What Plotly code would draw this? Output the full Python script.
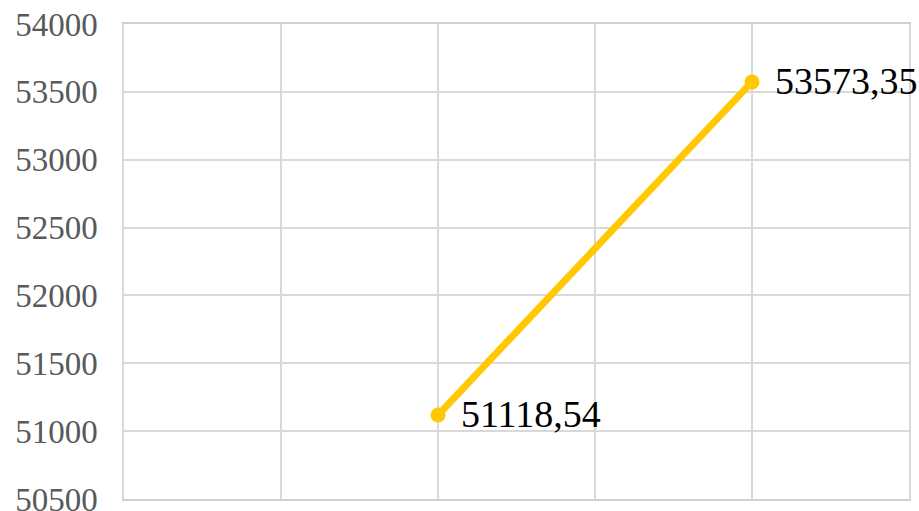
import plotly.graph_objects as go

positions = [2, 4]
values = [51118.54, 53573.35]
labels = ["51118,54", "53573,35"]
y_ticks = [50500, 51000, 51500, 52000, 52500, 53000, 53500, 54000]

fig = go.Figure()
fig.add_trace(go.Scatter(
    x=positions,
    y=values,
    mode="lines+markers",
    line=dict(color="#FFC800", width=7),
    marker=dict(color="#FFC800", size=15),
    hoverinfo="skip",
))

for x, y, t in zip(positions, values, labels):
    fig.add_annotation(
        x=x, y=y, text=t, showarrow=False,
        xanchor="left", yanchor="middle", xshift=21, yshift=1,
        font=dict(family="Liberation Serif", size=38, color="#000000"),
    )

fig.update_layout(
    width=919,
    height=511,
    margin=dict(l=124, r=10, t=24, b=12),
    paper_bgcolor="white",
    plot_bgcolor="white",
    showlegend=False,
    font=dict(family="Liberation Serif"),
)
fig.update_xaxes(
    range=[0, 5],
    tickvals=[0, 1, 2, 3, 4, 5],
    showticklabels=False,
    showgrid=True,
    gridcolor="#D9D9D9",
    gridwidth=1.5,
    zeroline=False,
    showline=True,
    linecolor="#D0D0D0",
    linewidth=1.5,
    mirror=True,
    automargin=False,
)
fig.update_yaxes(
    range=[50499.9, 54000.1],
    tickvals=y_ticks,
    ticktext=[str(v) for v in y_ticks],
    tickfont=dict(family="Liberation Serif", size=33, color="#595959"),
    showgrid=True,
    gridcolor="#D9D9D9",
    gridwidth=1.5,
    zeroline=False,
    showline=True,
    linecolor="#D9D9D9",
    linewidth=1.5,
    mirror=True,
    ticklabelstandoff=18,
    ticklabeloverflow="allow",
    automargin=False,
)

fig.write_html(
    "out.html",
    config={"displayModeBar": False},
    post_script="document.body.style.margin='0';",
)
